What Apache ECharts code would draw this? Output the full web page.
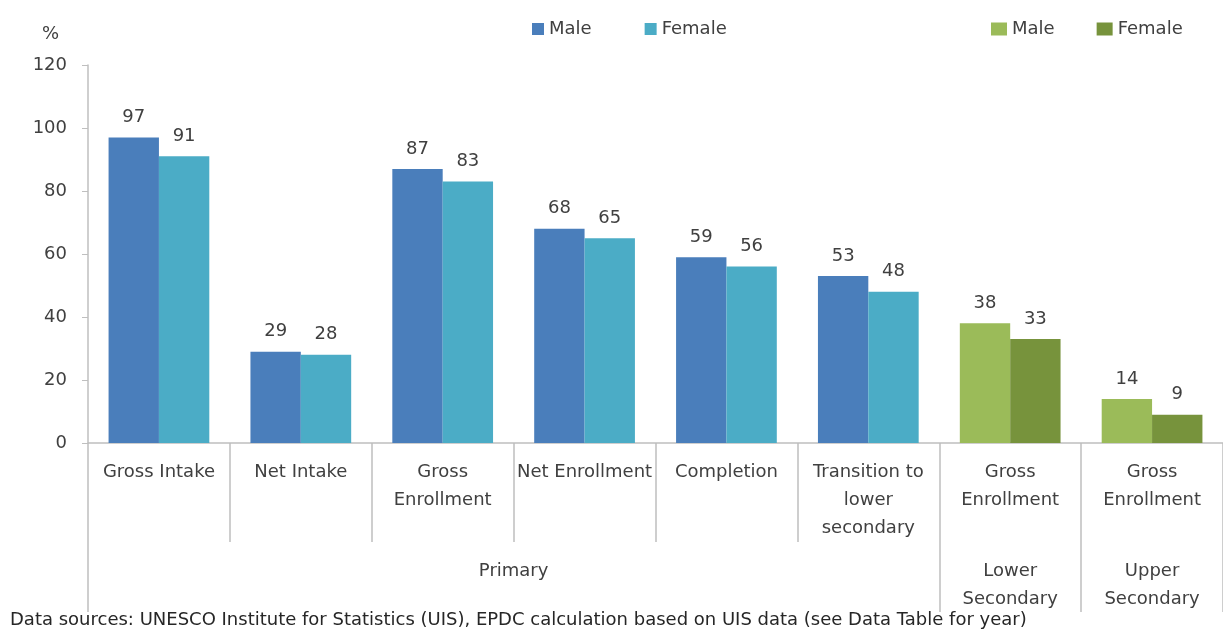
<!DOCTYPE html>
<html>
<head>
<meta charset="utf-8">
<script src="https://cdn.jsdelivr.net/npm/echarts@6/dist/echarts.min.js"></script>
<style>
  html, body { margin: 0; padding: 0; background: #fff; }
  #chart { width: 1223px; height: 635px; }
</style>
</head>
<body>
<div id="chart"></div>
<script>
// categories (first level) and group labels (second level)
var categories = ['Gross Intake', 'Net Intake', 'Gross\nEnrollment', 'Net Enrollment', 'Completion',
  'Transition to\nlower\nsecondary', 'Gross\nEnrollment', 'Gross\nEnrollment'];
var groupNames = ['Primary', 'Lower\nSecondary', 'Upper\nSecondary'];
var groupCenters = [3, 6.5, 7.5];
var groupBounds = [0, 6, 7, 8];

// values, %
var primaryMale   = [97, 29, 87, 68, 59, 53, null, null];
var primaryFemale = [91, 28, 83, 65, 56, 48, null, null];
var secondMale    = [null, null, null, null, null, null, 38, 14];
var secondFemale  = [null, null, null, null, null, null, 33, 9];

var yTicks = [0, 20, 40, 60, 80, 100, 120];

var font = 'DejaVu Sans';
var fs = 18;
var txt = '#404040';
var axisGrey = '#bfbfbf';

var chart = echarts.init(document.getElementById('chart'));

function barSeries(name, data, stack, color) {
  return {
    name: name,
    type: 'bar',
    stack: stack,
    data: data,
    xAxisIndex: 0,
    barGap: '0%',
    barCategoryGap: '29%',
    itemStyle: { color: color },
    label: {
      show: true,
      position: 'top',
      distance: 11,
      color: txt,
      fontFamily: font,
      fontSize: fs,
      formatter: function (p) { return p.value == null ? '' : p.value; }
    }
  };
}

chart.setOption({
  animation: false,
  title: [
    { text: '%', left: 37, top: 20, textStyle: { fontFamily: font, fontSize: fs, fontWeight: 'normal', color: txt } },
    { text: 'Data sources: UNESCO Institute for Statistics (UIS), EPDC calculation based on UIS data (see Data Table for year)',
      left: 10, top: 611, padding: 0, textStyle: { fontFamily: font, fontSize: fs, fontWeight: 'normal', color: '#262626' } }
  ],
  legend: [
    {
      data: ['Male', 'Female'], left: 532, top: 20, itemWidth: 12, itemHeight: 12, itemGap: 53, padding: 0,
      icon: 'rect', textStyle: { fontFamily: font, fontSize: fs, color: txt }
    },
    {
      data: ['Male (Secondary)', 'Female (Secondary)'], left: 991, top: 20, itemWidth: 16, itemHeight: 13, itemGap: 42, padding: 0,
      icon: 'rect', textStyle: { fontFamily: font, fontSize: fs, color: txt },
      formatter: function (n) { return n.split(' ')[0]; }
    }
  ],
  grid: { left: 88, top: 65, width: 1136, bottom: 192, containLabel: false },
  xAxis: [
    {
      type: 'category',
      data: categories,
      axisLine: { lineStyle: { color: axisGrey, width: 1.5 } },
      axisTick: { show: true, interval: 0, length: 99, lineStyle: { color: axisGrey, width: 1.5 } },
      axisLabel: { interval: 0, margin: 15, lineHeight: 28, color: txt, fontFamily: font, fontSize: fs }
    },
    {
      type: 'value',
      min: 0,
      max: 8,
      position: 'bottom',
      axisLine: { show: false },
      splitLine: { show: false },
      axisTick: { show: true, customValues: groupBounds, length: 169, lineStyle: { color: axisGrey, width: 1.5 } },
      axisLabel: {
        customValues: groupCenters, margin: 114, lineHeight: 28, color: txt, fontFamily: font, fontSize: fs,
        formatter: function (v) { return groupNames[groupCenters.indexOf(v)]; }
      }
    }
  ],
  yAxis: {
    type: 'value',
    min: yTicks[0],
    max: yTicks[yTicks.length - 1],
    interval: 20,
    axisLine: { show: true, lineStyle: { color: axisGrey, width: 1.5 } },
    axisTick: { show: true, length: 6, lineStyle: { color: axisGrey } },
    splitLine: { show: false },
    axisLabel: { margin: 21, color: txt, fontFamily: font, fontSize: fs }
  },
  series: [
    barSeries('Male', primaryMale, 'm', '#4a7ebb'),
    barSeries('Female', primaryFemale, 'f', '#4bacc6'),
    barSeries('Male (Secondary)', secondMale, 'm', '#9bbb59'),
    barSeries('Female (Secondary)', secondFemale, 'f', '#77933c')
  ]
});
</script>
</body>
</html>
